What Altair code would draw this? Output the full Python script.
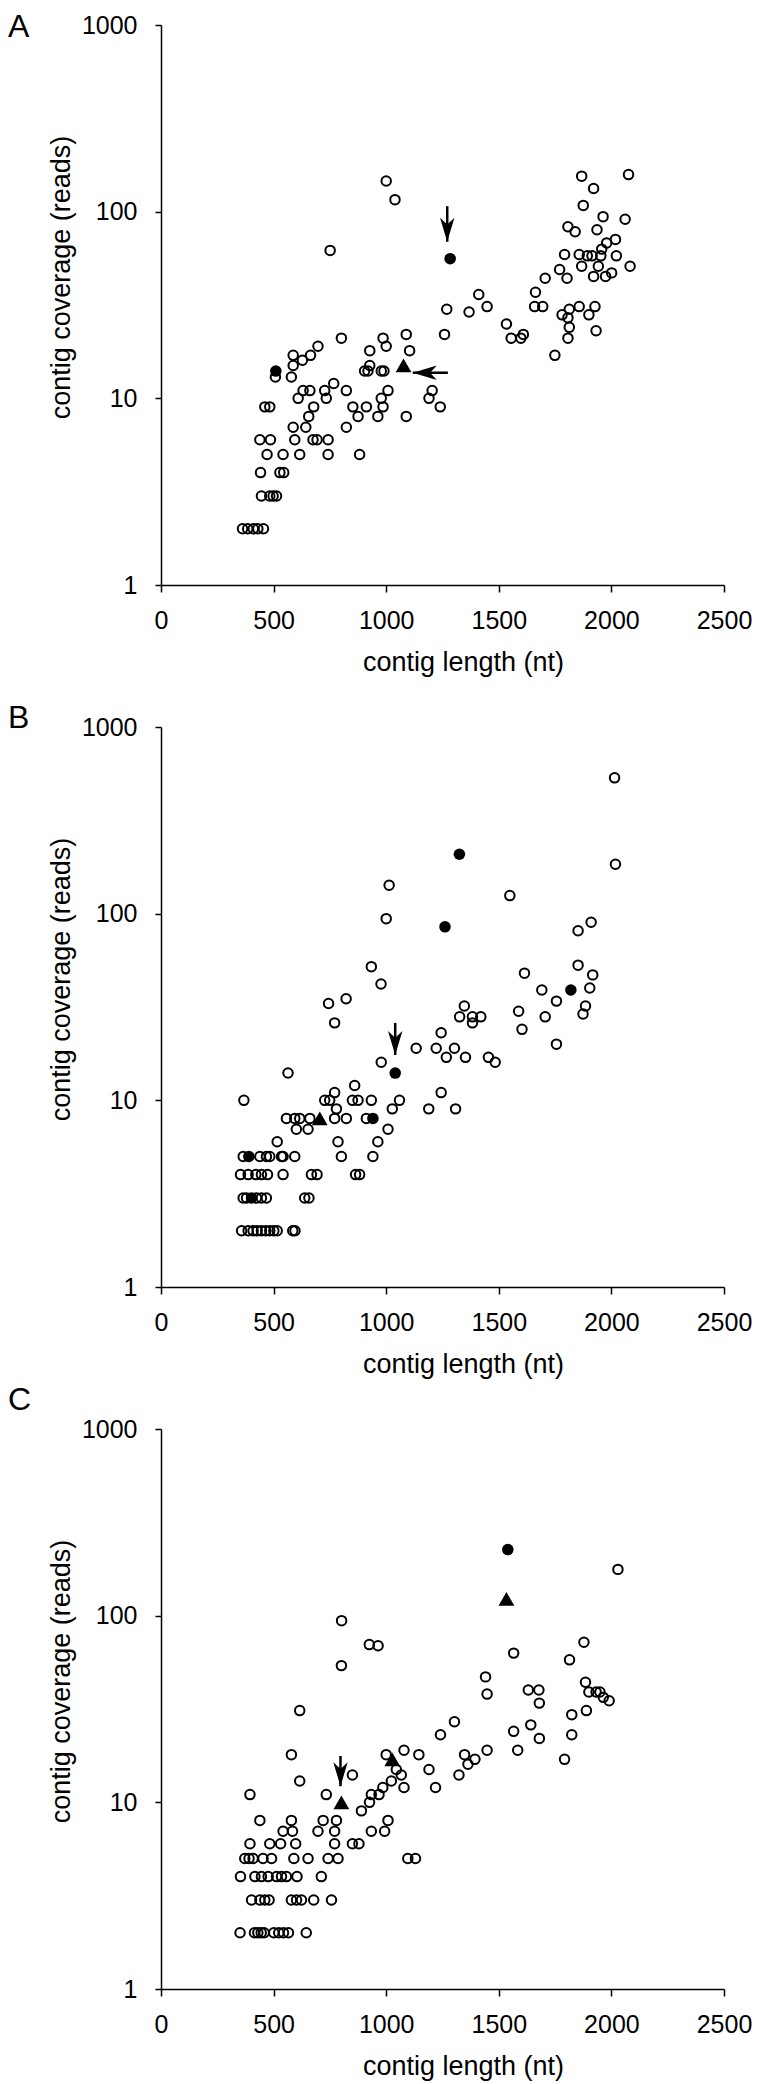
import altair as alt
import pandas as pd

FONT = "Liberation Sans"

# ---------------- Panel A (contig length nt, coverage reads) ----------------
A_open = [
    (362, 2), (385, 2), (410, 2), (430, 2), (455, 2),
    (446, 3), (483, 3), (498, 3), (513, 3),
    (442, 4), (528, 4), (545, 4),
    (471, 5), (542, 5), (616, 5), (742, 5), (882, 5),
    (439, 6), (486, 6), (594, 6), (675, 6), (693, 6), (742, 6),
    (587, 7), (643, 7), (823, 7),
    (656, 8), (875, 8), (963, 8), (1089, 8),
    (461, 9), (483, 9), (678, 9), (852, 9), (912, 9), (986, 9), (1240, 9),
    (609, 10), (734, 10), (978, 10), (1190, 10),
    (631, 11), (661, 11), (727, 11), (823, 11), (1008, 11), (1204, 11),
    (767, 12), (508, 13), (579, 13),
    (904, 14), (919, 14), (978, 14), (990, 14),
    (587, 15), (927, 15), (628, 16), (664, 17), (587, 17),
    (927, 18), (1104, 18), (697, 19), (1000, 19), (801, 21), (986, 21),
    (1089, 22), (1259, 22),
    (751, 62), (1000, 146), (1039, 116),
    (1269, 30), (1368, 29), (1411, 36), (1448, 31), (1534, 25), (1555, 21),
    (1598, 21), (1609, 22), (1749, 17), (1663, 37), (1659, 31), (1695, 31),
    (1706, 44), (1770, 49), (1792, 59), (1803, 44), (1807, 83), (1839, 78),
    (1781, 28), (1807, 27), (1813, 30), (1813, 24), (1807, 21), (1857, 31),
    (1857, 59), (1868, 155), (1875, 108), (1868, 51), (1893, 58), (1900, 28),
    (1914, 58), (1921, 133), (1927, 31), (1921, 45), (1936, 80), (1932, 23),
    (1942, 51), (1953, 58), (1957, 63), (1963, 94), (1974, 45), (1979, 68),
    (2001, 47), (2018, 71), (2022, 58), (2061, 91), (2076, 158), (2083, 51),
]
A_filled = [(510, 14), (1284, 56)]
A_triangle = [(1077, 15)]
A_arrow_down = [(1271, 107, 69)]      # length, coverage from, coverage to (tip)
A_arrow_left = [(13.7, 1274, 1118)]   # coverage, length from, length to (tip)

# ---------------- Panel B ----------------
B_open = [
    (358, 2), (387, 2), (409, 2), (427, 2), (446, 2), (465, 2), (483, 2),
    (501, 2), (516, 2), (585, 2), (595, 2),
    (365, 3), (380, 3), (424, 3), (446, 3), (468, 3), (638, 3), (657, 3),
    (353, 4), (387, 4), (421, 4), (446, 4), (473, 4), (542, 4), (668, 4),
    (693, 4), (864, 4), (882, 4),
    (365, 5), (439, 5), (468, 5), (483, 5), (535, 5), (542, 5), (594, 5),
    (801, 5), (941, 5),
    (516, 6), (786, 6), (963, 6),
    (601, 7), (653, 7), (1008, 7),
    (557, 8), (594, 8), (616, 8), (661, 8), (771, 8), (823, 8), (912, 8),
    (779, 9), (1027, 9), (1189, 9), (1308, 9),
    (368, 10), (727, 10), (749, 10), (850, 10), (875, 10), (934, 10), (1059, 10),
    (771, 11), (1244, 11), (860, 12),
    (564, 14), (978, 16), (771, 26),
    (1133, 19), (1222, 19), (1303, 19), (1267, 17), (1352, 17), (1454, 17),
    (1484, 16), (1244, 23), (1326, 28), (1347, 32), (1383, 28), (1383, 26),
    (1420, 28), (1588, 30), (1603, 24), (1706, 28), (1756, 20), (1756, 34),
    (1691, 39), (1614, 48), (1549, 125), (1852, 53), (1852, 81), (1910, 90),
    (1917, 47), (1904, 40), (1885, 32), (1874, 29), (2014, 534), (2018, 184),
    (1013, 142), (1000, 94), (934, 52), (977, 42), (744, 33), (822, 35),
]
B_filled = [(402, 3), (390, 5), (941, 8), (1040, 14), (1261, 85), (1325, 208), (1820, 39)]
B_triangle = [(705, 8)]
B_arrow_down = [(1040, 26, 17.5)]
B_arrow_left = []

# ---------------- Panel C ----------------
C_open = [
    (351, 2), (415, 2), (430, 2), (445, 2), (458, 2), (501, 2), (523, 2),
    (544, 2), (566, 2), (645, 2),
    (402, 3), (439, 3), (461, 3), (480, 3), (579, 3), (602, 3), (624, 3),
    (678, 3), (757, 3),
    (353, 4), (417, 4), (446, 4), (476, 4), (513, 4), (535, 4), (557, 4),
    (604, 4), (712, 4),
    (372, 5), (391, 5), (409, 5), (453, 5), (491, 5), (590, 5), (653, 5),
    (742, 5), (786, 5), (1096, 5), (1130, 5),
    (395, 6), (483, 6), (531, 6), (598, 6), (771, 6), (850, 6), (879, 6),
    (542, 7), (584, 7), (697, 7), (771, 7), (934, 7), (993, 7),
    (439, 8), (579, 8), (720, 8), (779, 8), (1008, 8),
    (890, 9), (926, 10),
    (395, 11), (734, 11), (934, 11), (968, 11),
    (985, 12), (1079, 12), (1219, 12),
    (616, 13), (1023, 13), (850, 14), (1067, 14), (1323, 14), (1045, 15),
    (1190, 15), (1363, 16), (579, 18), (1000, 18), (1145, 18), (1348, 18),
    (1079, 19), (1394, 17), (1241, 23), (1303, 27), (616, 31), (801, 54),
    (802, 94), (925, 70), (964, 69), (2029, 177),
    (1566, 63), (1441, 47), (1448, 38), (1631, 40), (1678, 40), (1680, 34),
    (1566, 24), (1584, 19), (1642, 26), (1680, 22), (1448, 19),
    (1792, 17), (1814, 58), (1878, 72), (1824, 29.5), (1824, 23), (1885, 44),
    (1900, 39), (1889, 31), (1932, 39), (1949, 39), (1964, 36.5), (1990, 35),
]
C_filled = [(1540, 226)]
C_triangle = [(801, 10), (1027, 17), (1534, 123)]
C_arrow_down = [(797, 17.7, 12.2)]
C_arrow_left = []

X_TICKS = [0, 500, 1000, 1500, 2000, 2500]
Y_TICKS = [1, 10, 100, 1000]

# filled "stealth" arrowheads, tip at the symbol centre
DOWN_HEAD = "M 0 0 L -0.3 -1 L 0 -0.72 L 0.3 -1 Z"
LEFT_HEAD = "M 0 0 L 1 -0.3 L 0.72 0 L 1 0.3 Z"

x_scale = alt.Scale(domain=[0, 2500], nice=False, zero=False)
y_scale = alt.Scale(type="log", domain=[1, 1000], nice=False)

x_axis = alt.Axis(
    values=X_TICKS, format="d", grid=False, labelFlush=False, labelOverlap=False,
    labelFont=FONT, labelFontSize=25, labelColor="black", labelPadding=16,
    tickSize=7, tickColor="black", tickWidth=1.5,
    domainColor="black", domainWidth=1.5,
    title="contig length (nt)", titleFont=FONT, titleFontSize=27,
    titleFontWeight="normal", titleColor="black",
    titleX=302, titleY=85, titleAlign="center", titleBaseline="alphabetic",
)
y_axis = alt.Axis(
    values=Y_TICKS, format="d", grid=False, labelFlush=False, labelOverlap=False,
    labelFont=FONT, labelFontSize=25, labelColor="black", labelPadding=18,
    tickSize=6, tickColor="black", tickWidth=1.5,
    domainColor="black", domainWidth=1.5,
    title="contig coverage (reads)", titleFont=FONT, titleFontSize=27,
    titleFontWeight="normal", titleColor="black",
    titleX=-100, titleY=252, titleAngle=270, titleAlign="center",
    titleBaseline="middle",
)


def panel(letter, letter_y, open_pts, filled_pts, tri_pts, downs, lefts):
    X = alt.X("len:Q", scale=x_scale, axis=x_axis)
    Y = alt.Y("cov:Q", scale=y_scale, axis=y_axis)
    layers = []
    layers.append(
        alt.Chart(pd.DataFrame(open_pts, columns=["len", "cov"]))
        .mark_point(shape="circle", filled=False, size=90, strokeWidth=2,
                    color="black", opacity=1)
        .encode(x=X, y=Y)
    )
    if filled_pts:
        layers.append(
            alt.Chart(pd.DataFrame(filled_pts, columns=["len", "cov"]))
            .mark_point(shape="circle", filled=True, size=133, color="black",
                        opacity=1, strokeWidth=0)
            .encode(x=X, y=Y)
        )
    if tri_pts:
        layers.append(
            alt.Chart(pd.DataFrame(tri_pts, columns=["len", "cov"]))
            .mark_point(shape="triangle-up", filled=True, size=250,
                        color="black", opacity=1, strokeWidth=0)
            .encode(x=X, y=Y)
        )
    if downs:
        ddf = pd.DataFrame(downs, columns=["len", "cov", "cov2"])
        layers.append(
            alt.Chart(ddf).mark_rule(color="black", strokeWidth=2.5)
            .encode(x=X, y=Y, y2="cov2:Q")
        )
        layers.append(
            alt.Chart(ddf).mark_point(shape=DOWN_HEAD, filled=True, size=2304,
                                      strokeWidth=0, color="black", opacity=1)
            .encode(x=X, y=alt.Y("cov2:Q", scale=y_scale, axis=y_axis))
        )
    if lefts:
        ldf = pd.DataFrame(lefts, columns=["cov", "len", "len2"])
        layers.append(
            alt.Chart(ldf).mark_rule(color="black", strokeWidth=2.5)
            .encode(x=X, x2="len2:Q", y=Y)
        )
        layers.append(
            alt.Chart(ldf).mark_point(shape=LEFT_HEAD, filled=True, size=2304,
                                      strokeWidth=0, color="black", opacity=1)
            .encode(x=alt.X("len2:Q", scale=x_scale, axis=x_axis), y=Y)
        )
    layers.append(
        alt.Chart(pd.DataFrame({"t": [letter]}))
        .mark_text(align="left", baseline="alphabetic", font=FONT,
                   fontSize=32, color="black")
        .encode(text="t:N", x=alt.value(-153), y=alt.value(letter_y))
    )
    return alt.layer(*layers).properties(width=563, height=560)


pA = panel("A", 12, A_open, A_filled, A_triangle, A_arrow_down, A_arrow_left)
pB = panel("B", 1, B_open, B_filled, B_triangle, B_arrow_down, B_arrow_left)
pC = panel("C", -19, C_open, C_filled, C_triangle, C_arrow_down, C_arrow_left)

chart = (
    alt.vconcat(pA, pB, pC, spacing=142, bounds="flush")
    .properties(padding={"left": 0, "top": 3, "right": 0, "bottom": 2},
                background="white")
    .configure_view(stroke=None)
)

chart.save("out.html", embed_options={"renderer": "svg", "actions": False})
